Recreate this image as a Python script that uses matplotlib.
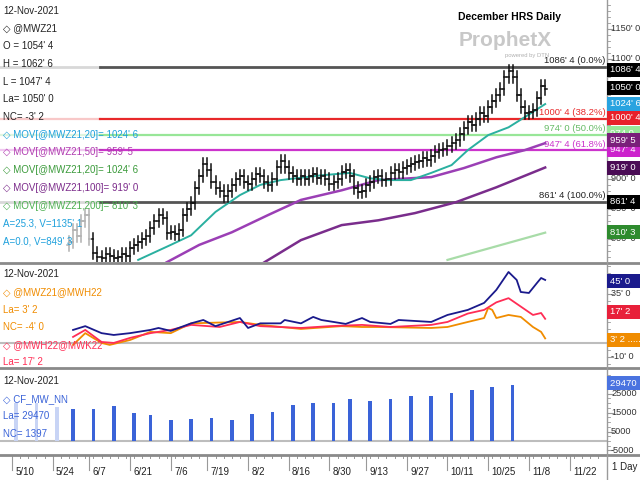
import numpy as np
import matplotlib
matplotlib.use("Agg")
import matplotlib.pyplot as plt
from matplotlib.lines import Line2D

plt.rcParams["font.family"] = ["Liberation Sans", "DejaVu Sans"]

W, H = 640, 480
HOLIDAYS = ["2021-05-31", "2021-07-05", "2021-09-06"]
ORIGIN = "2021-05-10"

def tday(d):
    return int(np.busday_count(ORIGIN, d, holidays=HOLIDAYS))

# ---------------- data ----------------
tick_dates = ["2021-05-10", "2021-05-24", "2021-06-07", "2021-06-21", "2021-07-06", "2021-07-19",
              "2021-08-02", "2021-08-16", "2021-08-30", "2021-09-13", "2021-09-27", "2021-10-11",
              "2021-10-25", "2021-11-08", "2021-11-22"]
tick_labels = ["5/10", "5/24", "6/7", "6/21", "7/6", "7/19", "8/2", "8/16", "8/30", "9/13",
               "9/27", "10/11", "10/25", "11/8", "11/22"]

gray_start = 14
gray_close = [795, 815, 805, 830, 840, 800]
close_start = 20
closes = [776, 770, 768, 775, 772, 768, 770, 775, 772, 785, 790, 795, 800, 805, 818, 830, 840, 835,
          810, 812, 808, 815, 840, 850, 860, 885, 905, 925, 915, 895, 885, 880, 872, 880, 890, 900,
          905, 895, 892, 900, 908, 905, 895, 890, 900, 920, 930, 920, 910, 905, 900, 905, 900, 905,
          908, 902, 905, 900, 892, 895, 900, 912, 915, 905, 885, 878, 880, 890, 895, 903, 905, 898,
          900, 910, 915, 912, 918, 922, 925, 928, 930, 935, 932, 938, 945, 948, 950, 955, 960, 965,
          975, 985, 995, 990, 1000, 1010, 1005, 1020, 1030, 1040, 1050, 1070, 1080, 1070, 1040, 1020,
          1010, 1012, 1015, 1035, 1055, 1050]

ma20_days = [31, 39, 44, 50, 56, 61, 66, 76, 83, 88, 92, 98, 103, 108, 112, 117, 122, 126, 131]
ma20_vals = [765, 790, 806, 845, 873, 890, 898, 906, 910, 901, 898, 898, 910, 923, 948, 973, 986, 1003, 1024.75]
ma50_days = [38, 46, 54, 63, 71, 81, 90, 103, 111, 119, 126, 131]
ma50_vals = [761, 790, 811, 840, 865, 881, 898, 903, 918, 936, 948, 959.6]
ma100_days = [62, 71, 81, 90, 99, 109, 119, 131]
ma100_vals = [761, 798, 823, 831, 843, 861, 886, 919]
ma200_days = [107, 131]
ma200_vals = [765, 810.4]

fib_levels = [1086.5, 1000.5, 974.0, 947.5, 861.5]
fib_labels = ["1086' 4 (0.0%)", "1000' 4 (38.2%)", "974' 0 (50.0%)", "947' 4 (61.8%)", "861' 4 (100.0%)"]

blue_days = [15, 18, 22, 25, 29, 34, 36, 39, 44, 47, 50, 56, 58, 61, 66, 67, 71, 74, 76, 82, 86, 88, 93, 95,
             103, 107, 112, 116, 119, 122, 124, 125, 127, 129, 130, 131]
blue_vals = [9.3, 12, 7, 5.7, 7, 9.3, 10.7, 8.6, 14, 16.4, 12, 17.8, 10.7, 14, 14, 16.4, 14, 18.6, 16.4,
             13.6, 17.8, 15, 13.6, 16.4, 15, 20, 23.6, 28.6, 37.9, 50.7, 45, 36.4, 35.7, 42.9, 46.4, 45]
red_days = [15, 18, 22, 25, 29, 34, 39, 44, 51, 56, 61, 71, 78, 86, 93, 103, 107, 112, 116, 119, 122, 125, 128, 130, 131]
red_vals = [4.3, 9.3, 0.7, 0, 3.6, 7, 9.3, 12.9, 11.4, 15, 12, 10.7, 12, 12.9, 11.4, 12.9, 15, 21, 23.6, 29,
            32, 26, 20, 21.4, 17.25]
orange_days = [15, 18, 22, 24, 29, 34, 39, 44, 56, 61, 71, 81, 86, 90, 103, 107, 112, 116, 117, 118, 119,
               122, 125, 128, 130, 131]
orange_vals = [-1.4, 7, 0, -1.4, 2.1, 7.9, 7, 14, 15, 12.9, 10, 12, 11.4, 11.4, 10.7, 11.4, 15, 17.8, 25,
               23.6, 17.8, 20, 18.6, 11.4, 7.9, 3.25]

cot_ghost_days = [1, 6, 11]
cot_ghost_vals = [20000, 20000, 17900]
cot_days = [15, 20, 25, 30, 34, 39, 44, 49, 54, 59, 64, 69, 74, 79, 83, 88, 93, 98, 103, 108, 113, 118, 123]
cot_vals = [16800, 16800, 18400, 14700, 13700, 11000, 11500, 12100, 11000, 14200, 15300, 19000, 20000,
            20000, 22100, 21000, 22100, 23700, 23700, 25300, 26800, 28400, 29470]

# ---------------- layout ----------------
PX_PER_DAY = 4.07
X0 = 12.0
PLOT_R = 607
xlim = ((0 - X0) / PX_PER_DAY, (PLOT_R - X0) / PX_PER_DAY)

fig = plt.figure(figsize=(6.4, 4.8), dpi=100)
fig.patch.set_facecolor("white")

def add_ax(y0, y1):
    ax = fig.add_axes([0, 1 - y1 / H, PLOT_R / W, (y1 - y0) / H])
    ax.set_xlim(*xlim)
    for s in ax.spines.values():
        s.set_visible(False)
    ax.set_xticks([]); ax.set_yticks([])
    ax.patch.set_alpha(0)
    return ax

ax1 = add_ax(0, 262)
ax1.set_ylim(761.5, 1198.2)
ax2 = add_ax(264, 368)
ax2.set_ylim(-17.9, 56.4)
ax3 = add_ax(369, 455)
ax3.set_ylim(-7370, 37900)

def fx(x): return x / W
def fy(y): return 1 - y / H

for y in [263, 367.5, 455]:
    fig.add_artist(Line2D([0, 1], [fy(y), fy(y)], color="#8a8a8a", lw=2))
fig.add_artist(Line2D([fx(PLOT_R), fx(PLOT_R)], [fy(0), fy(480)], color="#9a9a9a", lw=1))

# ---- top panel ----
fib_cols = ["#555555", "#e8282a", "#98e698", "#cc33cc", "#555555"]
fib_pale = ["#d8d8d8", "#f8c8c8", "#dff5df", "#f0c8f0", "#d8d8d8"]
split = (100 - X0) / PX_PER_DAY
for lv, c, pc, lab in zip(fib_levels, fib_cols, fib_pale, fib_labels):
    lw = 2 if c == "#555555" else 1.6
    ax1.plot([xlim[0], split], [lv, lv], color=pc, lw=lw, zorder=1)
    ax1.plot([split, xlim[1]], [lv, lv], color=c, lw=lw, zorder=1)
    tc = "#222222" if c == "#555555" else c
    if c == "#98e698": tc = "#66bb66"
    ax1.text(xlim[1] - 0.3, lv + 3, lab, color=tc, fontsize=6.8, ha="right", va="bottom", zorder=2)

ax1.plot(ma200_days, ma200_vals, color="#a8dca8", lw=1.6, zorder=2)
ax1.plot(ma100_days, ma100_vals, color="#7a2d8c", lw=1.8, zorder=2)
ax1.plot(ma50_days, ma50_vals, color="#9b3fb5", lw=1.8, zorder=2)
ax1.plot(ma20_days, ma20_vals, color="#2ab0a0", lw=1.4, zorder=3)

BAR_EXT = 10
def ohlc(ax, start, cl, prev, color):
    for i, c in enumerate(cl):
        d = start + i
        o = prev if i == 0 else cl[i - 1]
        hi = max(o, c) + BAR_EXT; lo = min(o, c) - BAR_EXT
        ax.plot([d, d], [lo, hi], color=color, lw=1.1, zorder=4)
        ax.plot([d - 0.45, d], [o, o], color=color, lw=1.1, zorder=4)
        ax.plot([d, d + 0.45], [c, c], color=color, lw=1.1, zorder=4)

ohlc(ax1, gray_start, gray_close, 790, "#b0b0b0")
ohlc(ax1, close_start, closes, gray_close[-1], "#111111")

# ---- middle panel ----
ax2.axhline(0, color="#bdbdbd", lw=1.5, zorder=1)
ax2.plot(orange_days, orange_vals, color="#f08c00", lw=1.3)
ax2.plot(red_days, red_vals, color="#ff2d55", lw=1.3)
ax2.plot(blue_days, blue_vals, color="#1a1a8c", lw=1.3)

# ---- bottom panel ----
ax3.axhline(0, color="#bdbdbd", lw=1.5, zorder=1)
ax3.bar(cot_ghost_days, cot_ghost_vals, width=0.9, color="#c8d4f5", zorder=2)
ax3.bar(cot_days, cot_vals, width=0.9, color="#3a63d8", zorder=2)

# ---- x axis ----
ax4 = fig.add_axes([0, 0, PLOT_R / W, 25 / H])
ax4.set_xlim(*xlim); ax4.set_ylim(0, 25)
ax4.axis("off")
for d in range(0, 146, 2):
    ax4.plot([d, d], [25, 22], color="#999999", lw=0.7)
for dstr, lab in zip(tick_dates, tick_labels):
    d = tday(dstr)
    ax4.plot([d, d], [25, 10], color="#999999", lw=0.8)
    ax4.text(d + 0.8, 8, lab, fontsize=7, color="#222222", ha="left", va="center")
fig.text(fx(612), fy(467), "1 Day", fontsize=7, color="#222222", va="center")

# ---- right axis ticks ----
def rtick(ax, vals, fmt, minor_step, lo, hi):
    for v in np.arange(lo, hi + 1e-9, minor_step):
        yy = ax.transData.transform((0, v))[1]
        fig.add_artist(Line2D([fx(PLOT_R), fx(PLOT_R + 3)], [yy / H, yy / H], color="#999999", lw=0.6))
    for v in vals:
        yy = ax.transData.transform((0, v))[1]
        fig.add_artist(Line2D([fx(PLOT_R), fx(PLOT_R + 6)], [yy / H, yy / H], color="#999999", lw=0.8))
        fig.text(fx(611), yy / H, fmt(v), fontsize=6.6, color="#333333", va="center")

rtick(ax1, [1150, 1100, 1050, 1000, 950, 900, 850, 800], lambda v: f"{int(v)}' 0", 10, 770, 1190)
rtick(ax2, [35, -10], lambda v: f"{int(v)}' 0", 5, -15, 55)
rtick(ax3, [25000, 15000, 5000, -5000], lambda v: f"{int(v)}", 2500, -5000, 35000)

def rbox(y, txt, bg, fg="white"):
    fig.text(fx(610), fy(y), txt, fontsize=6.8, color=fg, va="center", ha="left",
             bbox=dict(boxstyle="square,pad=0.3", fc=bg, ec="none"))

rbox(202, "861' 4 ", "#000000")
rbox(232, "810' 3 ", "#2e8b2e")
rbox(133, "974 0  ", "#98e698")
rbox(150, "947' 4 ", "#cc22cc")
rbox(168, "919' 0 ", "#4a0c55")
rbox(140, "959' 5 ", "#7a1f7a")
rbox(118, "1000' 4", "#e8202a")
rbox(104, "1024' 6", "#29a3e0")
rbox(88, "1050' 0", "#000000")
rbox(70, "1086' 4", "#000000")
rbox(281, "45' 0    ", "#1a1a8c")
rbox(312, "17' 2    ", "#e8203a")
rbox(340, "3' 2 .....", "#f08c00")
rbox(383, "29470  ", "#4a73e0")

# ---- titles / watermark ----
fig.text(fx(510), fy(17), "December HRS Daily", fontsize=7.5, fontweight="bold", ha="center", va="center")
fig.text(fx(505), fy(41), "ProphetX", fontsize=15, fontweight="bold", color="#c8c8c8", ha="center", va="center")
fig.text(fx(527), fy(55), "powered by DTN", fontsize=4.2, color="#b0b0b0", ha="center", va="center")

# ---- legends ----
def leg(y, txt, col):
    fig.text(fx(3), fy(y), txt, fontsize=7, color=col, va="center", ha="left")

leg(11, "12-Nov-2021", "#222222")
leg(28, "◇ @MWZ21", "#222222")
leg(46, "O = 1054' 4", "#222222")
leg(64, "H = 1062' 6", "#222222")
leg(82, "L = 1047' 4", "#222222")
leg(99, "La= 1050' 0", "#222222")
leg(117, "NC= -3' 2", "#222222")
leg(135, "◇ MOV[@MWZ21,20]= 1024' 6", "#1ea0dc")
leg(152, "◇ MOV[@MWZ21,50]= 959' 5", "#b03cb0")
leg(170, "◇ MOV[@MWZ21,20]= 1024' 6", "#3a9a3a")
leg(188, "◇ MOV[@MWZ21,100]= 919' 0", "#7b2a8a")
leg(206, "◇ MOV[@MWZ21,200]= 810' 3", "#4caf50")
leg(224, "A=25.3, V=1135' 1", "#1ea0dc")
leg(242, "A=0.0, V=849' 3", "#1ea0dc")

leg(274, "12-Nov-2021", "#222222")
leg(292, "◇ @MWZ21@MWH22", "#f08c00")
leg(310, "La= 3' 2", "#f08c00")
leg(327, "NC= -4' 0", "#f08c00")
leg(345, "◇ @MWH22@MWK22", "#ff2d55")
leg(362, "La= 17' 2", "#ff2d55")

leg(381, "12-Nov-2021", "#222222")
leg(399, "◇ CF_MW_NN", "#3a63d8")
leg(416, "La= 29470", "#3a63d8")
leg(434, "NC= 1397", "#3a63d8")

fig.savefig("out.png", dpi=100)
